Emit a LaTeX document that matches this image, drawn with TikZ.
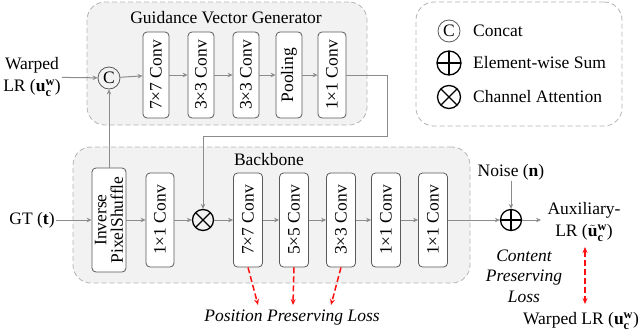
\documentclass[tikz,border=0pt]{standalone}
\usepackage{fontspec}
\setmainfont{Liberation Serif}
\usetikzlibrary{arrows.meta}
\definecolor{grp}{HTML}{F2F2F2}
\definecolor{grpline}{HTML}{B4B4B4}
\definecolor{arrc}{HTML}{8C8C8C}
\definecolor{boxline}{HTML}{5A5A5A}
\definecolor{lossred}{HTML}{FF1010}
\begin{document}
\begin{tikzpicture}[x=1pt,y=-1pt,
  font=\fontsize{17.5}{22}\selectfont,
  grpbox/.style={draw=grpline, dash pattern=on 5pt off 3pt, fill=grp, rounded corners=18pt, line width=0.8pt},
  legbox/.style={draw=grpline, dash pattern=on 5pt off 3pt, fill=white, rounded corners=18pt, line width=0.8pt},
  blk/.style={draw=boxline, fill=white, rounded corners=4pt, rotate=90, inner sep=0pt, line width=0.8pt},
  arr/.style={draw=arrc, line width=1pt, -{Stealth[length=5pt,width=4.5pt]}},
  lossarr/.style={draw=lossred, line width=1.5pt, dash pattern=on 6pt off 3pt, -{Stealth[length=6pt,width=5pt]}},
  lossdbl/.style={draw=lossred, line width=1.5pt, dash pattern=on 6pt off 3pt, {Stealth[length=6pt,width=5pt]}-{Stealth[length=6pt,width=5pt]}},
  catop/.style={circle, draw=boxline, line width=0.8pt, minimum size=22pt, inner sep=0pt},
  sumop/.style={circle, draw=black, line width=1.3pt, minimum size=21pt, inner sep=0pt,
     path picture={\draw[black, line width=1.3pt] (path picture bounding box.north) -- (path picture bounding box.south)
       (path picture bounding box.west) -- (path picture bounding box.east);}},
  attop/.style={circle, draw=black, line width=1.3pt, minimum size=21pt, inner sep=0pt,
     path picture={\draw[black, line width=1.3pt] (path picture bounding box.north west) -- (path picture bounding box.south east)
       (path picture bounding box.south west) -- (path picture bounding box.north east);}},
  lbl/.style={inner sep=1pt, align=center},
  losstxt/.style={inner sep=1pt, align=center, font=\fontsize{17.5}{20.5}\selectfont\itshape}
]
\useasboundingbox (0,0) rectangle (644,335);

% groups
\node[grpbox, minimum width=280pt, minimum height=123pt] (gvg) at (227,63.5) {};
\node[lbl] (gvgt) at (226,18) {Guidance Vector Generator};
\node[legbox, minimum width=206pt, minimum height=124pt] (leg) at (519,64) {};
\node[grpbox, minimum width=397pt, minimum height=136pt] (bb) at (271.5,215) {};
\node[lbl] (bbt) at (269,160) {Backbone};

% legend
\node[catop] (lc) at (449,31) {C};
\node[lbl, anchor=west] (lct) at (472,31) {Concat};
\node[sumop, minimum size=24pt] (ls) at (449,63) {};
\node[lbl, anchor=west] (lst) at (472,63) {Element-wise Sum};
\node[attop, minimum size=23pt] (la) at (449,97) {};
\node[lbl, anchor=west] (lat) at (472,97) {Channel Attention};

% GVG
\node[lbl] (wlr) at (32,77) {Warped\\LR ($\mathbf{u}^{\mathbf{w}}_{\mathbf{c}}$)};
\node[catop] (cc) at (109,78) {C};
\node[blk, minimum width=86pt, minimum height=26pt] (g1) at (156,75) {7×7 Conv};
\node[blk, minimum width=86pt, minimum height=26pt] (g2) at (201,75) {3×3 Conv};
\node[blk, minimum width=86pt, minimum height=26pt] (g3) at (246,75) {3×3 Conv};
\node[blk, minimum width=86pt, minimum height=26pt] (g4) at (289,75) {Pooling};
\node[blk, minimum width=86pt, minimum height=28pt] (g5) at (332,75) {1×1 Conv};

% Backbone
\node[lbl] (gt) at (32,220) {GT ($\mathbf{t}$)};
\node[blk, minimum width=104pt, minimum height=34pt, align=center, font=\fontsize{17.5}{16.5}\selectfont] (ips) at (109,220) {Inverse\\PixelShuffle};
\node[blk, minimum width=94pt, minimum height=28pt] (b1) at (160,220) {1×1 Conv};
\node[attop] (ca) at (203,220) {};
\node[blk, minimum width=94pt, minimum height=29pt] (b2) at (248,220) {7×7 Conv};
\node[blk, minimum width=94pt, minimum height=29pt] (b3) at (294,220) {5×5 Conv};
\node[blk, minimum width=94pt, minimum height=29pt] (b4) at (341,220) {3×3 Conv};
\node[blk, minimum width=94pt, minimum height=29pt] (b5) at (386,220) {1×1 Conv};
\node[blk, minimum width=94pt, minimum height=29pt] (b6) at (433,220) {1×1 Conv};
\node[sumop] (sm) at (511,220) {};
\node[lbl] (noise) at (511,172) {Noise ($\mathbf{n}$)};
\node[lbl] (aux) at (584,222) {Auxiliary-\\LR ($\tilde{\mathbf{u}}^{\mathbf{w}}_{\mathbf{c}}$)};
\node[lbl] (wlr2) at (581,321) {Warped LR ($\mathbf{u}^{\mathbf{w}}_{\mathbf{c}}$)};
\node[losstxt] (cpl) at (524,276) {Content\\Preserving\\Loss};
\node[losstxt] (ppl) at (292,318) {Position Preserving Loss};

% connectors GVG
\draw[arr] (wlr) -- (cc);
\draw[arr] (cc) -- (g1);
\draw[arr] (g1) -- (g2);
\draw[arr] (g2) -- (g3);
\draw[arr] (g3) -- (g4);
\draw[arr] (g4) -- (g5);
\coordinate (k1) at (387,75);
\coordinate (k2) at (387,136);
\coordinate (k3) at (203,136);
\draw[arr] (g5) -- (k1) -- (k2) -- (k3) -- (ca);
\draw[arr] (ips) -- (cc);

% connectors backbone
\draw[arr] (gt) -- (ips);
\draw[arr] (ips) -- (b1);
\draw[arr] (b1) -- (ca);
\draw[arr] (ca) -- (b2);
\draw[arr] (b2) -- (b3);
\draw[arr] (b3) -- (b4);
\draw[arr] (b4) -- (b5);
\draw[arr] (b5) -- (b6);
\draw[arr] (b6) -- (sm);
\draw[arr] (noise) -- (sm);
\coordinate (auxin) at (541,220);
\draw[arr] (sm) -- (auxin);

% losses
\coordinate (p1) at (258,305);
\coordinate (p2) at (293,305);
\coordinate (p3) at (331,305);
\draw[lossarr] (b2.west) -- (p1);
\draw[lossarr] (b3.west) -- (p2);
\draw[lossarr] (b4.west) -- (p3);
\coordinate (d1) at (585,247);
\coordinate (d2) at (585,304);
\draw[lossdbl] (d1) -- (d2);
\end{tikzpicture}
\end{document}
